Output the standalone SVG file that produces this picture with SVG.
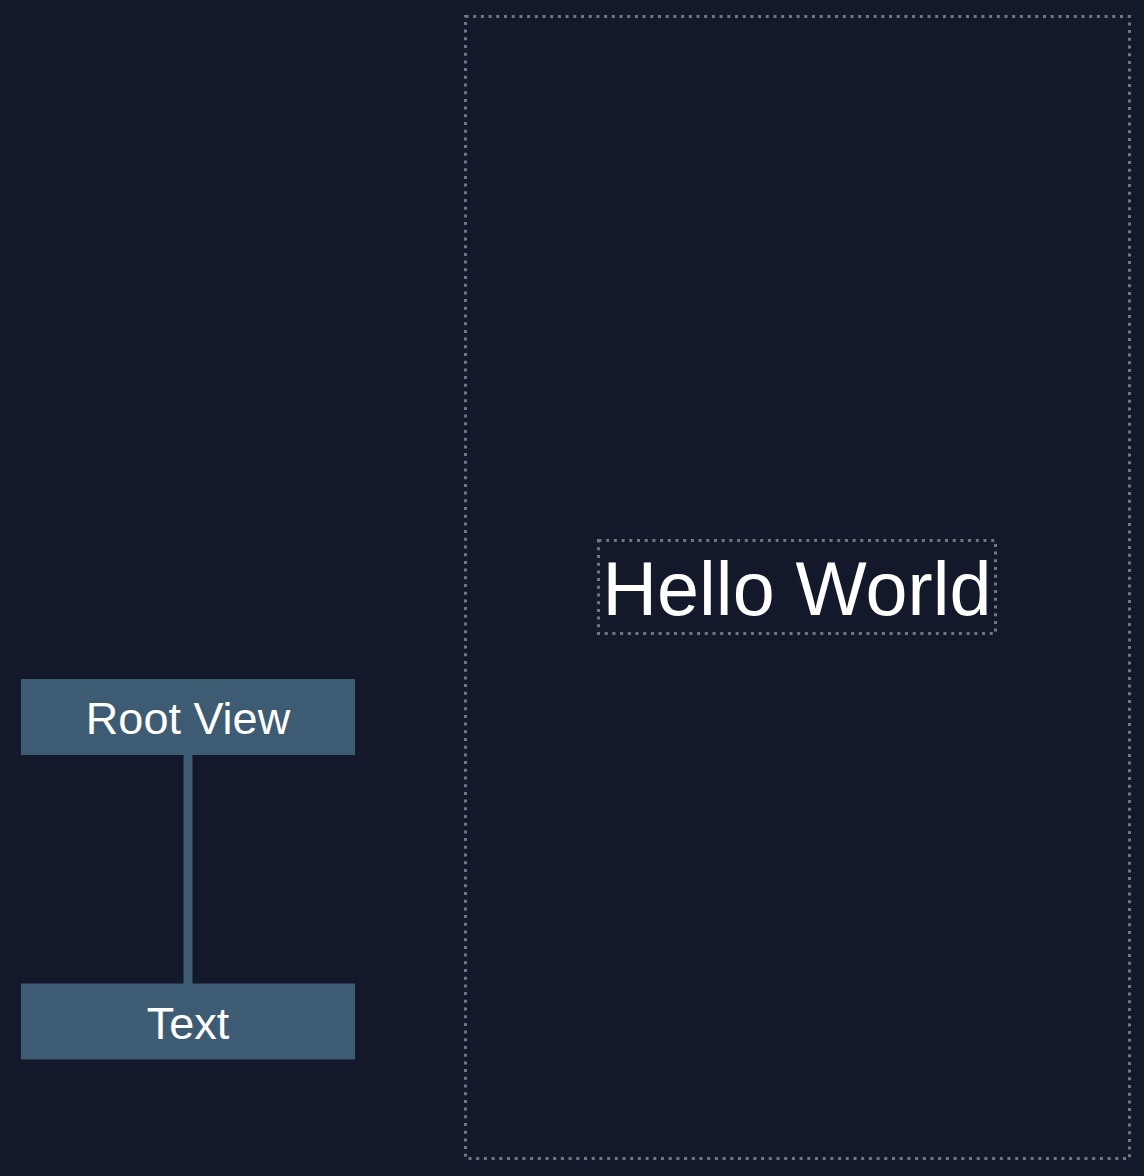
<svg xmlns="http://www.w3.org/2000/svg" width="1144" height="1176" viewBox="0 0 1144 1176">
<style>
.bg{fill:#13182b}
.node rect{fill:#3e5b74}
.node text{fill:#ffffff;font-family:"Liberation Sans",Arial,sans-serif;font-size:45px;text-anchor:middle}
.dot{fill:none;stroke:#70767f;stroke-width:3;stroke-dasharray:3 4.7}
.edge{stroke:#3e5b74;stroke-width:9;fill:none}
.hello{fill:#ffffff;font-family:"Liberation Sans",Arial,sans-serif;font-size:75.5px;text-anchor:middle}
</style>
<rect class="bg" x="0" y="0" width="1144" height="1176"/>
<g id="connectors">
<line class="edge" x1="188" y1="754" x2="188" y2="984"/>
</g>
<g id="root-view" class="node">
<rect x="21" y="679" width="334" height="76"/>
<text x="188" y="734">Root View</text>
</g>
<g id="text-node" class="node">
<rect x="21" y="983.5" width="334" height="76"/>
<text x="188" y="1039">Text</text>
</g>
<g id="screen">
<rect class="dot" x="465.5" y="16.5" width="664" height="1142"/>
</g>
<g id="hello-world">
<rect class="dot" x="598.5" y="540.5" width="397" height="93"/>
<text class="hello" x="797" y="615">Hello World</text>
</g>
</svg>
